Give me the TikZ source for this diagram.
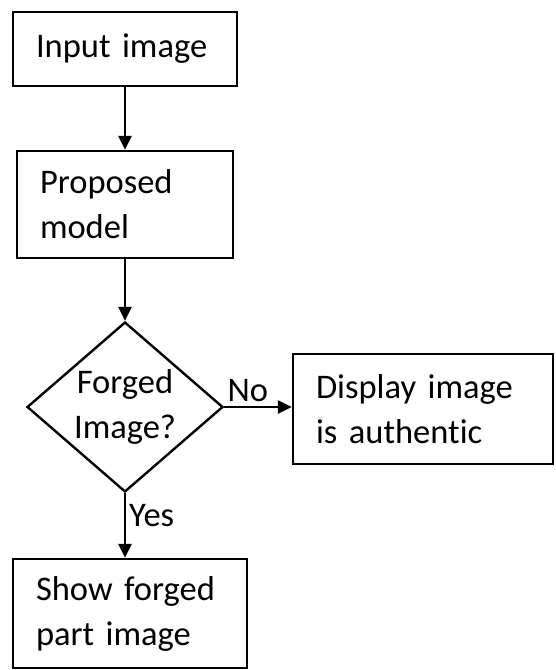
\documentclass[tikz,border=0pt]{standalone}
\usepackage{fontspec}
\setmainfont{Carlito}[Ligatures=NoCommon]
\usetikzlibrary{arrows.meta,shapes.geometric}
\newcommand\flowfont{\fontsize{34.5}{45}\selectfont\spaceskip=4.5pt\relax}
\begin{document}
\begin{tikzpicture}[x=1pt, y=-1pt,
    font=\flowfont, line width=2.4pt,
    stepbox/.style={draw, align=left, inner xsep=23pt, inner ysep=0pt},
    check/.style={draw, diamond, aspect=1.15, inner sep=0pt, minimum width=196pt, minimum height=170pt, align=center},
    flow/.style={-{Triangle[length=14pt,width=13pt]}}]
    \useasboundingbox (0,0) rectangle (555,670);

    \node[stepbox, text width=178pt, minimum height=74pt] (input) at (125,49) {Input image};
    \node[stepbox, text width=170pt, minimum height=107pt] (model) at (125,204.5) {Proposed\\model};
    \node[check] (forged) at (125,407) {Forged\\Image?};
    \node[stepbox, text width=214pt, minimum height=110pt] (authentic) at (423,409) {Display image\\is authentic};
    \node[stepbox, text width=188pt, minimum height=109pt] (part) at (130,613.5) {Show forged\\part image};

    \draw[flow] (input.south) -- (model.north);
    \draw[flow] (model.south) -- (forged.north);
    \draw[flow] (forged.east) -- node[pos=0.35, above, inner sep=4pt] {No} (forged.east -| authentic.west);
    \draw[flow] (forged.south) -- node[pos=0.35, right, inner sep=3pt] {Yes} (forged.south |- part.north);
  \end{tikzpicture}
\end{document}
